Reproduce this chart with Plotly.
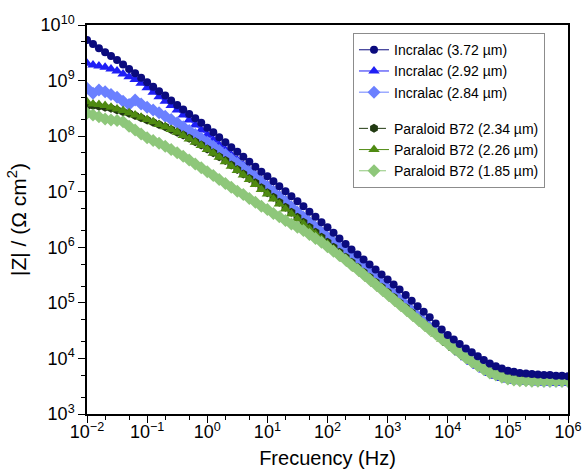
import plotly.graph_objects as go

# frequency grid (Hz), 10 points per decade
freq_hz = [
    1.00e-2, 1.26e-2, 1.58e-2, 2.00e-2, 2.51e-2, 3.16e-2, 3.98e-2, 5.01e-2, 6.31e-2, 7.94e-2,
    1.00e-1, 1.26e-1, 1.58e-1, 2.00e-1, 2.51e-1, 3.16e-1, 3.98e-1, 5.01e-1, 6.31e-1, 7.94e-1,
    1.00e0, 1.26e0, 1.58e0, 2.00e0, 2.51e0, 3.16e0, 3.98e0, 5.01e0, 6.31e0, 7.94e0,
    1.00e1, 1.26e1, 1.58e1, 2.00e1, 2.51e1, 3.16e1, 3.98e1, 5.01e1, 6.31e1, 7.94e1,
    1.00e2, 1.26e2, 1.58e2, 2.00e2, 2.51e2, 3.16e2, 3.98e2, 5.01e2, 6.31e2, 7.94e2,
    1.00e3, 1.26e3, 1.58e3, 2.00e3, 2.51e3, 3.16e3, 3.98e3, 5.01e3, 6.31e3, 7.94e3,
    1.00e4, 1.26e4, 1.58e4, 2.00e4, 2.51e4, 3.16e4, 3.98e4, 5.01e4, 6.31e4, 7.94e4,
    1.00e5, 1.26e5, 1.58e5, 2.00e5, 2.51e5, 3.16e5, 3.98e5, 5.01e5, 6.31e5, 7.94e5,
    1.00e6,
]

# log10 |Z| (Ohm cm2)
inc372 = [
    9.73, 9.66, 9.58, 9.51, 9.44, 9.37, 9.29, 9.21, 9.13, 9.05,
    8.97, 8.89, 8.81, 8.73, 8.64, 8.56, 8.48, 8.40, 8.32, 8.24,
    8.15, 8.07, 7.98, 7.89, 7.80, 7.72, 7.63, 7.54, 7.45, 7.36,
    7.28, 7.19, 7.10, 7.01, 6.92, 6.83, 6.74, 6.64, 6.55, 6.45,
    6.36, 6.26, 6.16, 6.06, 5.96, 5.87, 5.78, 5.69, 5.60, 5.51,
    5.42, 5.33, 5.24, 5.14, 5.04, 4.94, 4.84, 4.74, 4.63, 4.52,
    4.42, 4.34, 4.26, 4.18, 4.11, 4.04, 3.97, 3.91, 3.86, 3.82,
    3.78, 3.76, 3.74, 3.73, 3.72, 3.71, 3.70, 3.70, 3.69, 3.69,
    3.68,
]
inc292 = [
    9.31, 9.28, 9.26, 9.24, 9.21, 9.17, 9.12, 9.07, 9.02, 8.95,
    8.87, 8.79, 8.71, 8.63, 8.55, 8.47, 8.38, 8.29, 8.20, 8.11,
    8.02, 7.93, 7.84, 7.75, 7.66, 7.57, 7.48, 7.39, 7.30, 7.21,
    7.12, 7.03, 6.94, 6.85, 6.75, 6.65, 6.56, 6.47, 6.38, 6.29,
    6.20, 6.11, 6.03, 5.94, 5.85, 5.76, 5.66, 5.57, 5.47, 5.38,
    5.28, 5.18, 5.08, 4.98, 4.88, 4.78, 4.68, 4.58, 4.48, 4.38,
    4.28, 4.19, 4.10, 4.01, 3.93, 3.86, 3.79, 3.73, 3.68, 3.64,
    3.61, 3.59, 3.58, 3.57, 3.57, 3.56, 3.56, 3.56, 3.55, 3.55,
    3.55,
]
inc284 = [
    8.86, 8.77, 8.83, 8.80, 8.75, 8.70, 8.63, 8.57, 8.65, 8.58,
    8.52, 8.47, 8.42, 8.36, 8.30, 8.24, 8.17, 8.10, 8.03, 7.96,
    7.89, 7.82, 7.74, 7.67, 7.59, 7.51, 7.43, 7.35, 7.26, 7.17,
    7.08, 6.99, 6.90, 6.81, 6.72, 6.63, 6.54, 6.45, 6.36, 6.27,
    6.18, 6.09, 6.00, 5.91, 5.82, 5.73, 5.64, 5.54, 5.45, 5.35,
    5.26, 5.16, 5.06, 4.96, 4.86, 4.76, 4.66, 4.56, 4.47, 4.37,
    4.28, 4.19, 4.11, 4.03, 3.95, 3.88, 3.82, 3.76, 3.72, 3.68,
    3.65, 3.63, 3.62, 3.61, 3.60, 3.60, 3.59, 3.59, 3.59, 3.59,
    3.59,
]
par234 = [
    8.54, 8.55, 8.54, 8.52, 8.50, 8.47, 8.44, 8.41, 8.37, 8.33,
    8.29, 8.25, 8.21, 8.17, 8.12, 8.07, 8.02, 7.96, 7.90, 7.84,
    7.77, 7.70, 7.63, 7.56, 7.48, 7.40, 7.32, 7.24, 7.16, 7.07,
    6.98, 6.90, 6.81, 6.72, 6.63, 6.54, 6.45, 6.36, 6.27, 6.18,
    6.09, 6.00, 5.91, 5.82, 5.73, 5.64, 5.55, 5.46, 5.37, 5.28,
    5.19, 5.10, 5.00, 4.91, 4.82, 4.72, 4.63, 4.54, 4.45, 4.36,
    4.28, 4.19, 4.11, 4.03, 3.96, 3.89, 3.83, 3.77, 3.73, 3.69,
    3.66, 3.64, 3.63, 3.62, 3.62, 3.61, 3.61, 3.61, 3.61, 3.61,
    3.61,
]
par226 = [
    8.62, 8.58, 8.57, 8.55, 8.52, 8.49, 8.46, 8.42, 8.38, 8.34,
    8.30, 8.26, 8.21, 8.17, 8.12, 8.07, 8.01, 7.95, 7.89, 7.83,
    7.76, 7.69, 7.62, 7.54, 7.46, 7.38, 7.30, 7.22, 7.13, 7.04,
    6.96, 6.87, 6.78, 6.69, 6.60, 6.51, 6.42, 6.33, 6.24, 6.15,
    6.06, 5.97, 5.88, 5.79, 5.70, 5.61, 5.52, 5.43, 5.34, 5.25,
    5.16, 5.07, 4.98, 4.89, 4.80, 4.71, 4.62, 4.53, 4.44, 4.35,
    4.27, 4.18, 4.10, 4.02, 3.95, 3.88, 3.82, 3.77, 3.72, 3.69,
    3.66, 3.64, 3.63, 3.62, 3.62, 3.62, 3.62, 3.62, 3.62, 3.62,
    3.62,
]
par185 = [
    8.41, 8.38, 8.35, 8.31, 8.29, 8.28, 8.26, 8.18, 8.11, 8.04,
    7.97, 7.92, 7.87, 7.82, 7.76, 7.70, 7.64, 7.57, 7.50, 7.43,
    7.36, 7.29, 7.22, 7.15, 7.08, 7.01, 6.95, 6.88, 6.81, 6.74,
    6.68, 6.61, 6.55, 6.48, 6.42, 6.36, 6.30, 6.23, 6.16, 6.09,
    6.01, 5.93, 5.85, 5.77, 5.68, 5.60, 5.51, 5.42, 5.33, 5.24,
    5.15, 5.06, 4.97, 4.88, 4.79, 4.70, 4.61, 4.52, 4.44, 4.35,
    4.27, 4.18, 4.10, 4.01, 3.94, 3.87, 3.80, 3.74, 3.70, 3.66,
    3.63, 3.61, 3.60, 3.60, 3.59, 3.59, 3.59, 3.59, 3.59, 3.59,
    3.59,
]

exps = [-2, -1, 0, 1, 2, 3, 4, 5, 6]
yexps = [3, 4, 5, 6, 7, 8, 9, 10]


def sup(e):
    s = str(e).replace("-", "\u2212")
    return "10<sup>" + s + "</sup>"


# name, data, colour, symbol, dash, group, legend rank, size
series = [
    ("Incralac (2.92 µm)", inc292, "#1f1ff5", "triangle-up", "solid", "inc", 2, 10),
    ("Incralac (2.84 µm)", inc284, "#6b80ff", "diamond", "solid", "inc", 3, 10),
    ("Paraloid B72 (2.34 µm)", par234, "#223a12", "hexagon", "dash", "par", 4, 9),
    ("Paraloid B72 (2.26 µm)", par226, "#4f8a12", "triangle-up", "solid", "par", 5, 10),
    ("Paraloid B72 (1.85 µm)", par185, "#8ec77a", "diamond", "dash", "par", 6, 10),
    ("Incralac (3.72 µm)", inc372, "#0b0b7e", "circle", "solid", "inc", 1, 8),
]

fig = go.Figure()
for name, vals, col, sym, dash, grp, rank, sz in series:
    fig.add_trace(go.Scatter(
        x=freq_hz, y=[10 ** v for v in vals], name=name,
        mode="lines+markers", legendgroup=grp, legendrank=rank,
        line=dict(color=col, width=1, dash=dash),
        marker=dict(symbol=sym, size=sz, color=col, line=dict(width=0)),
    ))

fnt = "Liberation Sans, Arial, sans-serif"
axis_font = dict(family=fnt, size=18, color="black")
title_font = dict(family=fnt, size=20, color="black")
fig.update_xaxes(
    type="log", range=[-2, 6], automargin=False,
    tickvals=[10 ** e for e in exps], ticktext=[sup(e) for e in exps],
    ticks="outside", ticklen=7, tickwidth=1.3, tickcolor="black",
    ticklabelstandoff=-6,
    minor=dict(ticks="outside", ticklen=4, tickcolor="black", showgrid=False),
    showline=True, linecolor="black", linewidth=1.5, mirror=True,
    showgrid=False, zeroline=False, tickfont=axis_font,
    title=dict(text="Frecuency (Hz)", font=title_font, standoff=10),
)
fig.update_yaxes(
    type="log", range=[3, 10], automargin=False,
    tickvals=[10 ** e for e in yexps], ticktext=[sup(e) for e in yexps],
    ticks="outside", ticklen=7, tickwidth=1.3, tickcolor="black",
    minor=dict(ticks="outside", ticklen=4, tickcolor="black", showgrid=False),
    showline=True, linecolor="black", linewidth=1.5, mirror=True,
    showgrid=False, zeroline=False, tickfont=axis_font,
    title=dict(text="|Z| / (\u03a9 cm<sup>2</sup>)", font=dict(family=fnt, size=21, color="black"), standoff=8),
)
fig.update_layout(
    width=585, height=476,
    margin=dict(l=87, r=17, t=25, b=62),
    paper_bgcolor="white", plot_bgcolor="white",
    legend=dict(
        x=0.553, y=0.979, xanchor="left", yanchor="top",
        bgcolor="white", bordercolor="#8c8c8c", borderwidth=1,
        font=dict(family=fnt, size=14, color="black"),
        traceorder="grouped", tracegroupgap=15, itemwidth=30,
    ),
)
# drop the default page margin so the figure sits at the window corner
fig.write_html(
    "out.html",
    config={"displayModeBar": False},
    post_script="document.body.style.margin='0';document.body.style.overflow='hidden';",
)
